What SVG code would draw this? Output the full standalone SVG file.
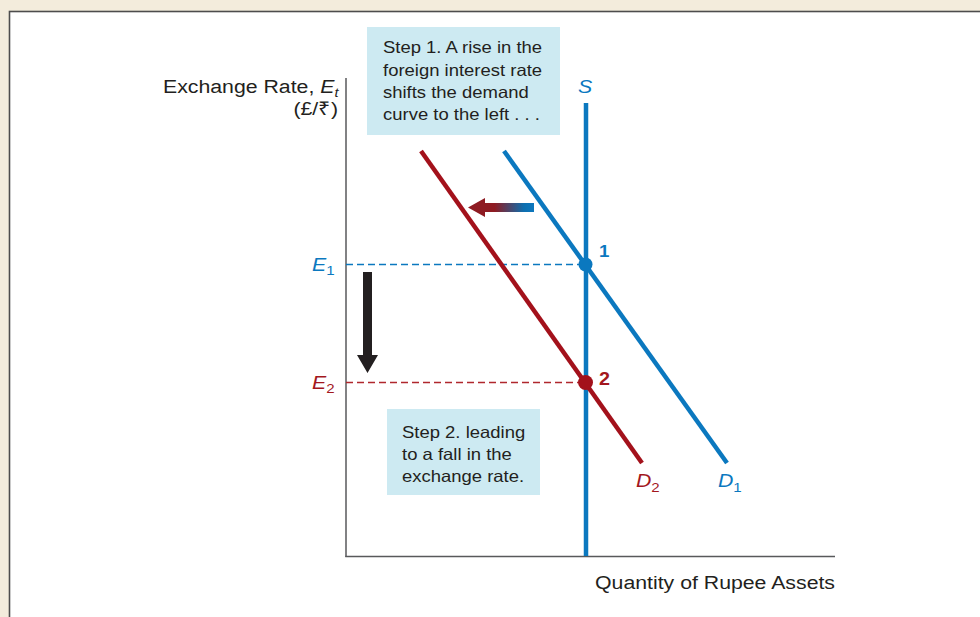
<svg xmlns="http://www.w3.org/2000/svg" width="980" height="617" viewBox="0 0 980 617">
<style>
  text { font-family: "Liberation Sans", Arial, Helvetica, sans-serif; fill: #231f20; }
  .box { fill: #cdeaf2; }
  .t16 { font-size: 16.5px; }
  .t18 { font-size: 19px; }
  .it { font-style: italic; }
  .up { font-style: normal; }
  .blue { fill: #0b78bf; }
  .red { fill: #a3171d; }
  .axis { stroke: #58595b; stroke-width: 1.5; fill: none; }
  .lineB { stroke: #0b78bf; stroke-width: 4.5; fill: none; }
  .lineR { stroke: #a3111b; stroke-width: 4.5; fill: none; }
  .dashB { stroke: #0b78bf; stroke-width: 1.3; stroke-dasharray: 7 4; fill: none; }
  .dashR { stroke: #b0272d; stroke-width: 1.3; stroke-dasharray: 7 4; fill: none; }
</style>
<defs>
  <linearGradient id="shiftGrad" gradientUnits="userSpaceOnUse" x1="468" y1="0" x2="534" y2="0">
    <stop offset="0" stop-color="#8e1b22"/>
    <stop offset="0.4" stop-color="#8e1b22"/>
    <stop offset="0.85" stop-color="#0d6fb0"/>
    <stop offset="1" stop-color="#0d77bd"/>
  </linearGradient>
</defs>
<rect x="0" y="0" width="980" height="617" fill="#f3ecdc"/>
<rect x="9.5" y="11.5" width="980" height="620" fill="#ffffff" stroke="#4d4d4d" stroke-width="1.6"/>

<g id="axes">
  <line class="axis" x1="346" y1="78" x2="346" y2="557"/>
  <line class="axis" x1="345.3" y1="556.5" x2="835" y2="556.5"/>
  <text class="t18" transform="translate(163,93) scale(1.12,1)">Exchange Rate, <tspan class="it">E</tspan><tspan class="it" font-size="13" dy="4">t</tspan></text>
  <text class="t18" text-anchor="end" transform="translate(338,115) scale(1.12,1)">(£/₹)</text>
  <text class="t18" text-anchor="end" transform="translate(835,589) scale(1.12,1)">Quantity of Rupee Assets</text>
</g>

<g id="connectors">
  <line class="dashB" x1="346" y1="264.5" x2="586" y2="264.5"/>
  <line class="dashR" x1="346" y1="382.5" x2="586" y2="382.5"/>
  <polygon fill="#231f20" points="363,272 372,272 372,355 378,355 367.5,373 357,355 363,355"/>
  <polygon fill="url(#shiftGrad)" points="534,203 485,203 485,198 468,207.5 485,217 485,212 534,212"/>
</g>

<g id="supply-S">
  <line class="lineB" x1="586" y1="103" x2="586" y2="556"/>
  <text class="t18 it blue" text-anchor="middle" transform="translate(585,93) scale(1.12,1)">S</text>
</g>

<g id="demand-D1">
  <line class="lineB" x1="504" y1="151" x2="727" y2="463"/>
  <text class="t18 it blue" transform="translate(718,487) scale(1.12,1)">D<tspan class="up" font-size="13.5" dy="5">1</tspan></text>
</g>

<g id="demand-D2">
  <line class="lineR" x1="421" y1="151" x2="642" y2="463"/>
  <text class="t18 it red" transform="translate(636,487) scale(1.12,1)">D<tspan class="up" font-size="13.5" dy="5">2</tspan></text>
</g>

<g id="point-1">
  <circle cx="585.5" cy="264.5" r="7" fill="#0b78bf"/>
  <text class="blue" font-size="17" font-weight="bold" transform="translate(599,257) scale(1.1,1)">1</text>
</g>

<g id="point-2">
  <circle cx="585.5" cy="382.5" r="7.5" fill="#a3111b"/>
  <text class="red" font-size="18" font-weight="bold" transform="translate(599,385) scale(1.1,1)">2</text>
</g>

<g id="label-E1">
  <text class="t18 it blue" transform="translate(312,271) scale(1.12,1)">E<tspan class="up" font-size="13.5" dy="4">1</tspan></text>
</g>

<g id="label-E2">
  <text class="t18 it red" transform="translate(312,389) scale(1.12,1)">E<tspan class="up" font-size="13.5" dy="4">2</tspan></text>
</g>

<g id="step1">
  <rect class="box" x="367" y="27" width="193" height="108"/>
  <text class="t16" transform="translate(383,53) scale(1.12,1)">Step 1. A rise in the</text>
  <text class="t16" transform="translate(383,75.5) scale(1.12,1)">foreign interest rate</text>
  <text class="t16" transform="translate(383,97.5) scale(1.12,1)">shifts the demand</text>
  <text class="t16" transform="translate(383,120) scale(1.12,1)">curve to the left . . .</text>
</g>

<g id="step2">
  <rect class="box" x="387" y="409" width="153" height="86"/>
  <text class="t16" transform="translate(402,438) scale(1.12,1)">Step 2. leading</text>
  <text class="t16" transform="translate(402,460) scale(1.12,1)">to a fall in the</text>
  <text class="t16" transform="translate(402,482) scale(1.12,1)">exchange rate.</text>
</g>
</svg>
